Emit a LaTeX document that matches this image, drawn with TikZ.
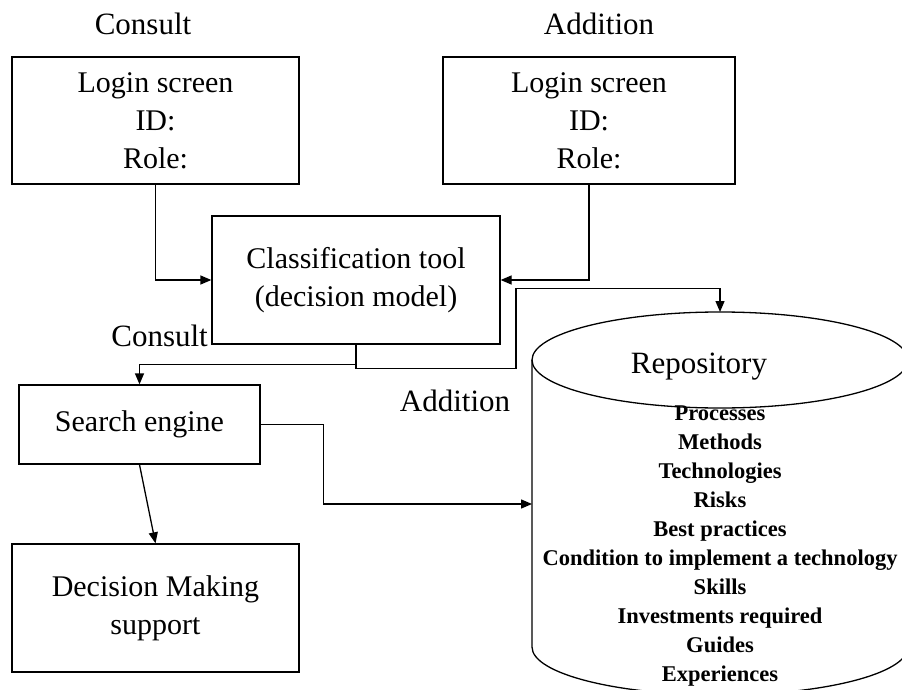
\documentclass[tikz,border=0pt]{standalone}
\usepackage{fontspec}
\setmainfont{Liberation Serif}
\usetikzlibrary{arrows.meta}
\begin{document}
\begin{tikzpicture}[x=1pt,y=-1pt,
  box/.style={draw, line width=1.3pt, inner sep=0pt, align=center, font=\fontsize{30}{38}\selectfont},
  lbl/.style={inner sep=0pt, font=\fontsize{31}{38}\selectfont},
  conn/.style={line width=1.3pt, -{Triangle[length=11pt,width=9pt]}},
  item/.style={inner sep=0pt, anchor=base, font=\fontsize{22.5}{29}\selectfont\bfseries},
  cylline/.style={line width=1.3pt}]
\useasboundingbox (0,0) rectangle (902,690);
% boxes
\node[box, minimum width=287pt, minimum height=127pt] (login1) at (155.5,120.5) {Login screen\\ID:\\Role:};
\node[box, minimum width=292pt, minimum height=127pt] (login2) at (589,120.5) {Login screen\\ID:\\Role:};
\node[box, minimum width=288pt, minimum height=128pt] (class) at (356,280) {Classification tool\\(decision model)};
\node[box, minimum width=241pt, minimum height=79pt] (search) at (139.5,424.5) {Search engine};
\node[box, minimum width=287pt, minimum height=128pt] (dms) at (155.5,608) {Decision Making\\support};
% repository cylinder
\draw[cylline] (720,360) ellipse [x radius=188pt, y radius=48pt];
\draw[cylline] (532,360) -- (532,647) arc[start angle=180, end angle=360, x radius=188pt, y radius=48pt] -- (908,360);
\coordinate (repotop) at (720,312);
\coordinate (repoleft) at (532,504);
\node[inner sep=0pt, anchor=base, font=\fontsize{31}{38}\selectfont] (repo) at (699,373) {Repository};
\foreach \t [count=\i from 0] in {Processes,Methods,Technologies,Risks,Best practices,Condition to implement a technology,Skills,Investments required,Guides,Experiences}
  \node[item] (item\i) at (720,{420.7+29*\i}) {\t};
% labels
\node[lbl, anchor=base] (lc1) at (143,35) {Consult};
\node[lbl, anchor=base] (la1) at (599,35) {Addition};
\node[lbl, anchor=base east] (lc2) at (208,346) {Consult};
\node[lbl, anchor=base] (la2) at (455,411) {Addition};
% connectors
\draw[conn] (login1.south) |- (class.west);
\draw[conn] (login2.south) |- (class.east);
\draw[conn] (class.south) -- ++(0,20) -| (search.north);
\draw[conn] (class.south) -- ++(0,24) -| ++(160,-80) -| (repotop);
\draw[conn] (search.south) -- (dms.north);
\draw[conn] (search.east) -- ++(63,0) |- (repoleft);
\end{tikzpicture}
\end{document}
